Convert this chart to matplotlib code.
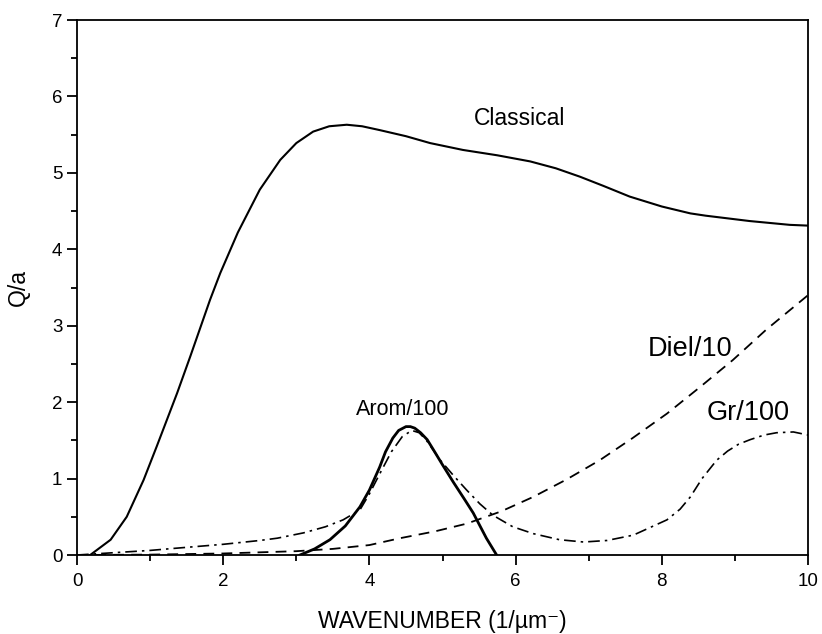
import matplotlib
matplotlib.use('Agg')
import matplotlib.pyplot as plt
from matplotlib.ticker import MultipleLocator

plt.rcParams['font.family'] = ['Liberation Sans', 'DejaVu Sans']

# Classical (solid)
cl_x = [0.18, 0.46, 0.68, 0.91, 1.09, 1.37, 1.55, 1.82, 1.96, 2.2, 2.5, 2.78,
        3.0, 3.23, 3.45, 3.69, 3.9, 4.14, 4.5, 4.83, 5.28, 5.75, 6.2, 6.55,
        6.88, 7.2, 7.56, 8.0, 8.39, 8.6, 9.2, 9.75, 10]
cl_y = [0, 0.2, 0.5, 0.98, 1.42, 2.12, 2.6, 3.34, 3.69, 4.22, 4.78, 5.17,
        5.39, 5.54, 5.61, 5.63, 5.61, 5.56, 5.48, 5.39, 5.3, 5.23, 5.15, 5.06,
        4.95, 4.83, 4.69, 4.56, 4.47, 4.44, 4.37, 4.32, 4.31]

# Diel/10 (dashed)
di_x = [0, 1, 2, 3, 3.5, 4.0, 4.42, 4.9, 5.33, 5.8, 6.24, 6.7, 7.15, 7.6,
        8.07, 8.5, 8.97, 9.43, 10]
di_y = [0, 0.005, 0.02, 0.05, 0.08, 0.13, 0.22, 0.31, 0.41, 0.57, 0.76, 0.99,
        1.24, 1.53, 1.85, 2.18, 2.55, 2.95, 3.4]

# Gr/100 (dash-dot)
gr_x = [0, 0.5, 1.0, 1.37, 2.0, 2.5, 2.74, 3.1, 3.4, 3.64, 3.87, 4.0, 4.14,
        4.3, 4.45, 4.58, 4.68, 4.78, 4.97, 5.15, 5.33, 5.51, 5.69, 5.96, 6.24,
        6.6, 6.93, 7.25, 7.61, 8.07, 8.25, 8.39, 8.55, 8.75, 8.9, 9.05, 9.21,
        9.4, 9.57, 9.8, 10]
gr_y = [0, 0.03, 0.06, 0.09, 0.14, 0.19, 0.22, 0.29, 0.37, 0.46, 0.59, 0.8,
        1.06, 1.35, 1.55, 1.63, 1.6, 1.5, 1.24, 1.04, 0.85, 0.67, 0.52, 0.37,
        0.28, 0.2, 0.17, 0.19, 0.26, 0.46, 0.6, 0.76, 1.0, 1.24, 1.36, 1.45,
        1.51, 1.57, 1.6, 1.61, 1.57]

# Arom/100 (thick solid)
ar_x = [3.05, 3.25, 3.46, 3.67, 3.87, 4.0, 4.14, 4.22, 4.32, 4.4, 4.5, 4.56,
        4.62, 4.7, 4.79, 4.88, 5.0, 5.15, 5.3, 5.42, 5.6, 5.74]
ar_y = [0, 0.08, 0.2, 0.38, 0.63, 0.85, 1.15, 1.35, 1.53, 1.63, 1.68, 1.68,
        1.66, 1.6, 1.51, 1.37, 1.18, 0.95, 0.73, 0.55, 0.22, 0]

fig = plt.figure(figsize=(8.22, 6.34), dpi=100)
ax = fig.add_axes([0.0937, 0.1246, 0.8893, 0.8438])

ax.plot(cl_x, cl_y, color='black', lw=1.5)
ax.plot(di_x, di_y, color='black', lw=1.3, dashes=(6, 4))
ax.plot(gr_x, gr_y, color='black', lw=1.2, dashes=(7, 3, 1.5, 3))
ax.plot(ar_x, ar_y, color='black', lw=2.0)

ax.text(6.06, 5.71, 'Classical', fontsize=16.5, ha='center', va='center')
ax.text(8.39, 2.70, 'Diel/10', fontsize=19.5, ha='center', va='center')
ax.text(9.18, 1.86, 'Gr/100', fontsize=19.5, ha='center', va='center')
ax.text(4.45, 1.91, 'Arom/100', fontsize=15.5, ha='center', va='center')

ax.set_xlim(0, 10)
ax.set_ylim(0, 7)
ax.xaxis.set_major_locator(MultipleLocator(2))
ax.xaxis.set_minor_locator(MultipleLocator(1))
ax.yaxis.set_major_locator(MultipleLocator(1))
ax.yaxis.set_minor_locator(MultipleLocator(0.5))
ax.tick_params(which='both', direction='out', top=False, right=False,
               labelsize=13.5, width=1.3)
ax.tick_params(which='major', length=7)
ax.tick_params(which='minor', length=4)
ax.tick_params(axis='x', pad=6)
for s in ax.spines.values():
    s.set_linewidth(1.3)

ax.set_xlabel('WAVENUMBER (1/\u00b5m\u207b)', fontsize=16.5, labelpad=14)
ax.set_ylabel('Q/a', fontsize=16.5, labelpad=16)

fig.savefig('out.png', dpi=100)
